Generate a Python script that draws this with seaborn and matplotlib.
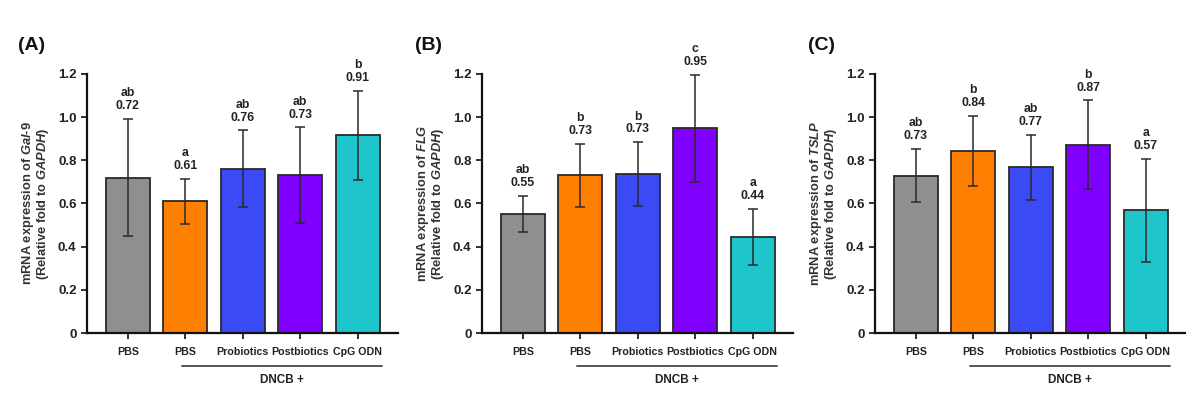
import numpy as np
import pandas as pd
import seaborn as sns
import matplotlib.pyplot as plt
from matplotlib import font_manager

# group keys (unique) and the labels printed under the bars
groups = ["PBS", "DNCB+PBS", "DNCB+Probiotics", "DNCB+Postbiotics", "DNCB+CpG ODN"]
tick_labels = ["PBS", "PBS", "Probiotics", "Postbiotics", "CpG ODN"]
colors = ["#8f8f8f", "#ff7f00", "#3a4af5", "#8000ff", "#1ec6cc"]

gene_labels = ["$\\mathit{Gal}$-$\\mathit{9}$", "$\\mathit{FLG}$", "$\\mathit{TSLP}$"]
panel_tags = ["(A)", "(B)", "(C)"]

gal9_mean = [0.72, 0.61, 0.76, 0.73, 0.915]
gal9_err = [0.27, 0.105, 0.178, 0.222, 0.205]
gal9_letters = ["ab", "a", "ab", "ab", "b"]
gal9_shown = ["0.72", "0.61", "0.76", "0.73", "0.91"]

flg_mean = [0.55, 0.73, 0.735, 0.948, 0.443]
flg_err = [0.083, 0.145, 0.148, 0.248, 0.13]
flg_letters = ["ab", "b", "b", "c", "a"]
flg_shown = ["0.55", "0.73", "0.73", "0.95", "0.44"]

tslp_mean = [0.728, 0.843, 0.767, 0.872, 0.568]
tslp_err = [0.123, 0.162, 0.15, 0.205, 0.237]
tslp_letters = ["ab", "b", "ab", "b", "a"]
tslp_shown = ["0.73", "0.84", "0.77", "0.87", "0.57"]

means = [gal9_mean, flg_mean, tslp_mean]
errs = [gal9_err, flg_err, tslp_err]
letters = [gal9_letters, flg_letters, tslp_letters]
shown = [gal9_shown, flg_shown, tslp_shown]

# the figure uses a narrow Arial-like face; fall back to a smaller regular one
installed = {f.name for f in font_manager.fontManager.ttflist}
if "Liberation Sans Narrow" in installed:
    narrow, cat_size = "Liberation Sans Narrow", 9.2
else:
    narrow, cat_size = "Liberation Sans", 7.7

sns.set_style("ticks")
plt.rcParams["font.family"] = [narrow, "Liberation Sans", "DejaVu Sans"]
plt.rcParams["font.weight"] = "bold"
plt.rcParams["mathtext.fontset"] = "custom"
plt.rcParams["mathtext.it"] = "Liberation Sans:italic:bold"
plt.rcParams["mathtext.rm"] = "Liberation Sans:bold"

fig = plt.figure(figsize=(11.86, 3.98), dpi=100)
lefts = [87, 482, 875]
tag_x = [18, 415, 808]
ink = "#222222"

for i in range(3):
    ax = fig.add_axes([lefts[i] / 1186, 0.1633, 311 / 1186, 0.651])
    df = pd.DataFrame({"group": groups, "value": means[i]})
    sns.barplot(data=df, x="group", y="value", hue="group", order=groups,
                palette=colors, saturation=1, width=0.76, edgecolor="#2a2a2a",
                linewidth=1.3, legend=False, ax=ax, errorbar=None)
    xs = np.arange(len(groups))
    ax.errorbar(xs, means[i], yerr=errs[i], fmt="none", ecolor="#2a2a2a",
                elinewidth=1.1, capsize=3.5, capthick=1.1)
    for x, m, e, l, s in zip(xs, means[i], errs[i], letters[i], shown[i]):
        ax.annotate(f"{l}\n{s}", (x, m + e), xytext=(0, 5), textcoords="offset points",
                    ha="center", va="bottom", fontsize=8.8, fontweight="bold",
                    color=ink, linespacing=1.1)

    ax.set_xlim(-0.71, 4.7)
    ax.set_ylim(0, 1.2)
    ax.set_yticks([0, 0.2, 0.4, 0.6, 0.8, 1.0, 1.2])
    ax.set_yticklabels(["0", "0.2", "0.4", "0.6", "0.8", "1.0", "1.2"])
    ax.set_xticks(xs)
    ax.set_xticklabels(tick_labels)
    ax.tick_params(axis="both", labelsize=cat_size, colors=ink, width=1.3, length=4)
    ax.tick_params(axis="y", labelsize=9.5)
    ax.tick_params(axis="x", pad=6)
    for lab in ax.get_xticklabels() + ax.get_yticklabels():
        lab.set_fontweight("bold")
    for side in ["top", "right"]:
        ax.spines[side].set_visible(False)
    for side in ["left", "bottom"]:
        ax.spines[side].set_linewidth(1.6)
        ax.spines[side].set_color("#111111")
    ax.set_xlabel("")
    ax.set_ylabel(f"mRNA expression of {gene_labels[i]}\n(Relative fold to $\\mathit{{GAPDH}}$)",
                  fontsize=9.3, fontweight="bold", color="#333333",
                  family=["Liberation Sans", "DejaVu Sans"], labelpad=5, linespacing=0.95)

    # DNCB + bracket under the treated groups
    ax.plot([0.95, 4.42], [-0.127, -0.127], color="#555555", lw=1.4,
            transform=ax.get_xaxis_transform(), clip_on=False)
    ax.text(2.68, -0.18, "DNCB +", transform=ax.get_xaxis_transform(),
            ha="center", va="center", fontsize=8.5, fontweight="bold", color=ink)

    fig.text(tag_x[i] / 1186, 1 - 45 / 398, panel_tags[i], fontsize=14,
             fontweight="bold", va="center", ha="left",
             family=["Liberation Sans", "DejaVu Sans"], color="#111111")

fig.savefig("out.png", dpi=100)
